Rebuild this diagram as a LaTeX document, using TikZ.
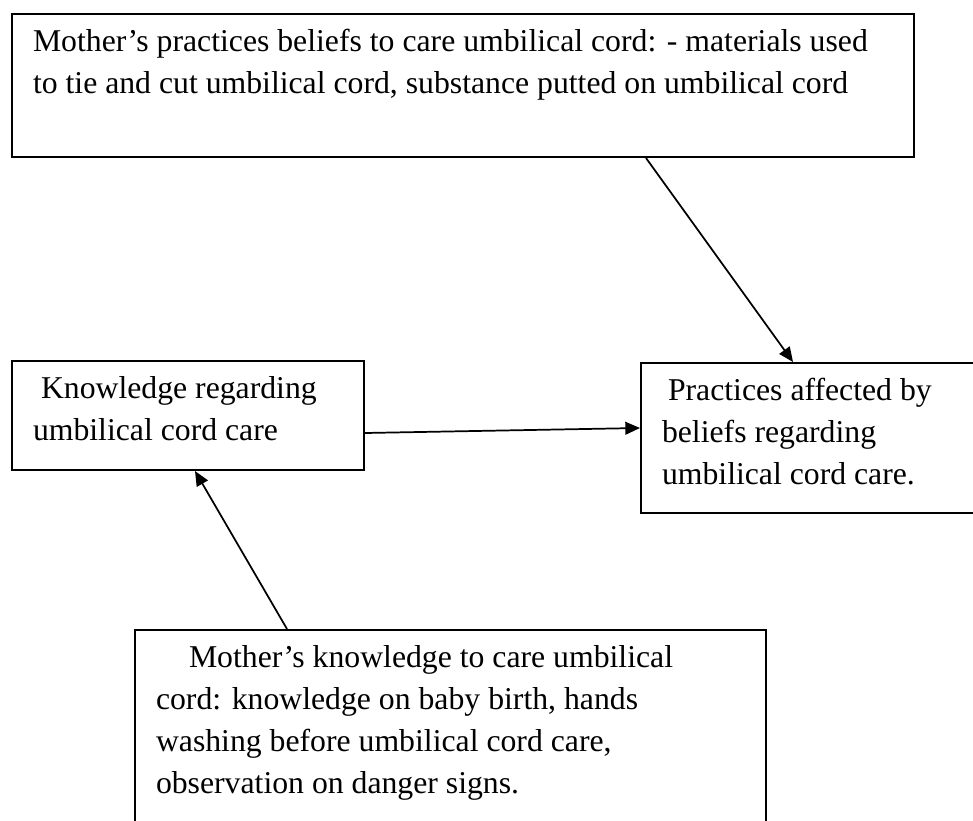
\documentclass[tikz,border=0pt]{standalone}
\usepackage{fontspec}
\setmainfont{Liberation Serif}
\usepackage{tikz}
\usetikzlibrary{arrows.meta}
\usetikzlibrary{calc}

\newcommand{\boxtext}[3]{\parbox[c][#2][t]{#1}{\raggedright\rule{0pt}{28pt}#3}}

\begin{document}
\begin{tikzpicture}[x=0.75pt, y=-0.75pt,
		box/.style={draw, line width=1.5pt, anchor=north west, inner xsep=15.75pt, inner ysep=0pt,
			font=\fontsize{23.8pt}{31.5pt}\selectfont},
		arr/.style={line width=1.3pt, -{Triangle[length=11pt,width=9.5pt]}}]
		\useasboundingbox (0,0) rectangle (973,820);
		
		\node[box] (belief) at (11,13) {\boxtext{645pt}{107.25pt}{Mother’s practices beliefs to care umbilical cord: - materials used\\to tie and cut umbilical cord, substance putted on umbilical cord}};
		\node[box] (know) at (11,360) {\boxtext{232.5pt}{81.75pt}{\hspace*{6pt}Knowledge regarding\\umbilical cord care}};
		\node[box] (pract) at (640,362) {\boxtext{220.5pt}{112.5pt}{\hspace*{4.5pt}Practices affected by\\beliefs regarding\\umbilical cord care.}};
		\node[box] (mother) at (134,629) {\boxtext{441.75pt}{147.75pt}{\hspace*{24.75pt}Mother’s knowledge to care umbilical\\cord: knowledge on baby birth, hands\\washing before umbilical cord care,\\observation on danger signs.}};
		
		\draw[arr] ($(belief.south west)+(635,0)$) -- ($(pract.north west)+(153,0)$);
		\draw[arr] ($(know.north east)+(0,73)$) -- ($(pract.north west)+(0,66)$);
		\draw[arr] ($(mother.north west)+(153,0)$) -- ($(know.south west)+(184,0)$);
	\end{tikzpicture}
\end{document}
